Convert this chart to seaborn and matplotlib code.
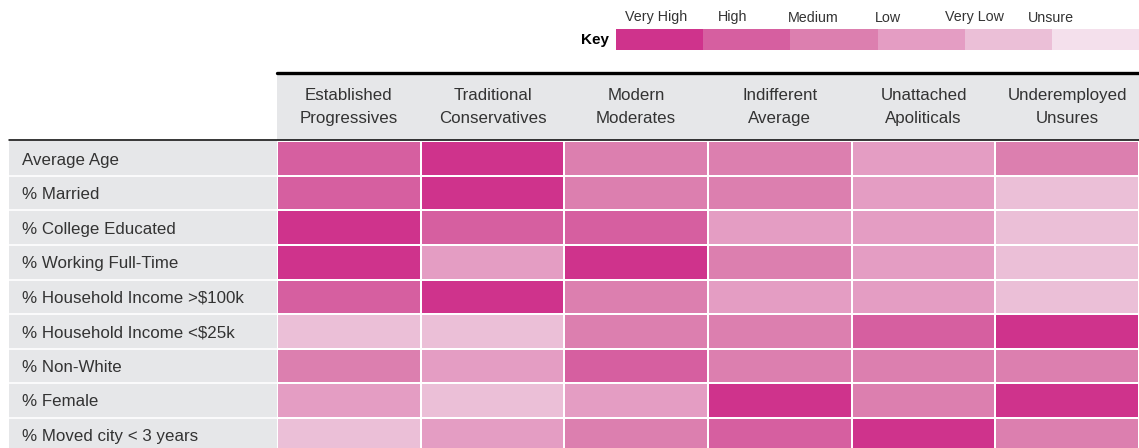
import matplotlib
matplotlib.use("Agg")
import matplotlib.pyplot as plt
from matplotlib.colors import ListedColormap
from matplotlib.lines import Line2D
from matplotlib.patches import Rectangle
from matplotlib.transforms import blended_transform_factory
import numpy as np
import pandas as pd
import seaborn as sns

sns.set_theme(style="white")
plt.rcParams["font.family"] = ["Liberation Sans", "DejaVu Sans"]

# Rating scale, strongest to weakest
levels = ["Very High", "High", "Medium", "Low", "Very Low", "Unsure"]
level_colors = ["#CF338C", "#D65FA0", "#DC7FAF", "#E49DC3", "#EBBFD7", "#F4E0EC"]

segments = [
    "Established\nProgressives",
    "Traditional\nConservatives",
    "Modern\nModerates",
    "Indifferent\nAverage",
    "Unattached\nApoliticals",
    "Underemployed\nUnsures",
]

metrics = [
    "Average Age",
    "% Married",
    "% College Educated",
    "% Working Full-Time",
    "% Household Income >$100k",
    "% Household Income <$25k",
    "% Non-White",
    "% Female",
    "% Moved city < 3 years",
]

# One row per metric, one entry per segment
ratings = [
    ["High", "Very High", "Medium", "Medium", "Low", "Medium"],
    ["High", "Very High", "Medium", "Medium", "Low", "Very Low"],
    ["Very High", "High", "High", "Low", "Low", "Very Low"],
    ["Very High", "Low", "Very High", "Medium", "Low", "Very Low"],
    ["High", "Very High", "Medium", "Low", "Low", "Very Low"],
    ["Very Low", "Very Low", "Medium", "Medium", "High", "Very High"],
    ["Medium", "Low", "High", "Medium", "Medium", "Medium"],
    ["Low", "Very Low", "Low", "Very High", "Medium", "Very High"],
    ["Very Low", "Low", "Medium", "High", "Very High", "Medium"],
]

codes = pd.DataFrame(
    [[levels.index(r) for r in row] for row in ratings],
    index=metrics,
    columns=segments,
)

W, H = 1139, 448
fig = plt.figure(figsize=(W / 100, H / 100), dpi=100)
fig.patch.set_facecolor("white")


def px_axes(x0, y0, x1, y1):
    """Axes placed by pixel box (top-left origin)."""
    return fig.add_axes([x0 / W, 1 - y1 / H, (x1 - x0) / W, (y1 - y0) / H])


def fx(x):
    return x / W


def fy(y):
    return 1 - y / H


grey = "#E6E7E9"
text_col = "#333333"
cmap = ListedColormap(level_colors)

grid_top, row_h = 141.5, 34.5
grid_bottom = grid_top + row_h * len(metrics)
left_lab, left_grid, right_edge = 9, 277, 1139

# Header band behind segment names (kept beneath the axes)
fig.patches.append(Rectangle((fx(left_grid), fy(140)), fx(right_edge) - fx(left_grid),
                             fy(74) - fy(140), transform=fig.transFigure,
                             facecolor=grey, edgecolor="none", zorder=-5))

# Main grid of ratings
ax = px_axes(left_grid, grid_top, right_edge, grid_bottom)
sns.heatmap(codes, ax=ax, cmap=cmap, vmin=-0.5, vmax=len(levels) - 0.5, cbar=False,
            linewidths=1.2, linecolor="white", xticklabels=False, yticklabels=False)
ax.set_xlabel("")
ax.set_ylabel("")

# Segment names over each column
hdr = blended_transform_factory(ax.transData, fig.transFigure)
for i, name in enumerate(codes.columns):
    ax.text(i + 0.5, fy(107), name, transform=hdr, ha="center", va="center",
            fontsize=12.2, color=text_col, linespacing=1.68, clip_on=False)

# Metric label column
axl = px_axes(left_lab, grid_top, left_grid, grid_bottom)
axl.set_facecolor(grey)
axl.set_xlim(0, 1)
axl.set_ylim(len(metrics), 0)
for s in axl.spines.values():
    s.set_visible(False)
axl.set_xticks([])
axl.set_yticks([])
for k in range(1, len(metrics)):
    axl.axhline(k, color="white", lw=1.2)
for k, m in enumerate(codes.index):
    axl.text(13 / (left_grid - left_lab), k + 0.55, m, ha="left", va="center",
             fontsize=12.2, color=text_col)

# Rules framing the header
fig.lines.append(Line2D([fx(left_grid), fx(right_edge)], [fy(72.5), fy(72.5)],
                        transform=fig.transFigure, color="black", lw=2.4))
fig.lines.append(Line2D([fx(left_lab), fx(right_edge)], [fy(140.3), fy(140.3)],
                        transform=fig.transFigure, color="black", lw=1.1))

# Colour key
axk = px_axes(616, 29, 1139, 50)
sns.heatmap(np.arange(len(levels))[None, :], ax=axk, cmap=cmap, vmin=-0.5,
            vmax=len(levels) - 0.5, cbar=False, linewidths=0,
            xticklabels=False, yticklabels=False)
fig.text(fx(609), fy(40), "Key", ha="right", va="center", fontsize=11,
         fontweight="bold", color="black")
key_label_x = [656, 733, 813, 888, 974, 1051]
for lx, lab in zip(key_label_x, levels):
    fig.text(fx(lx), fy(17.5), lab, ha="center", va="center", fontsize=10.3,
             color=text_col)

fig.savefig("out.png", dpi=100)
